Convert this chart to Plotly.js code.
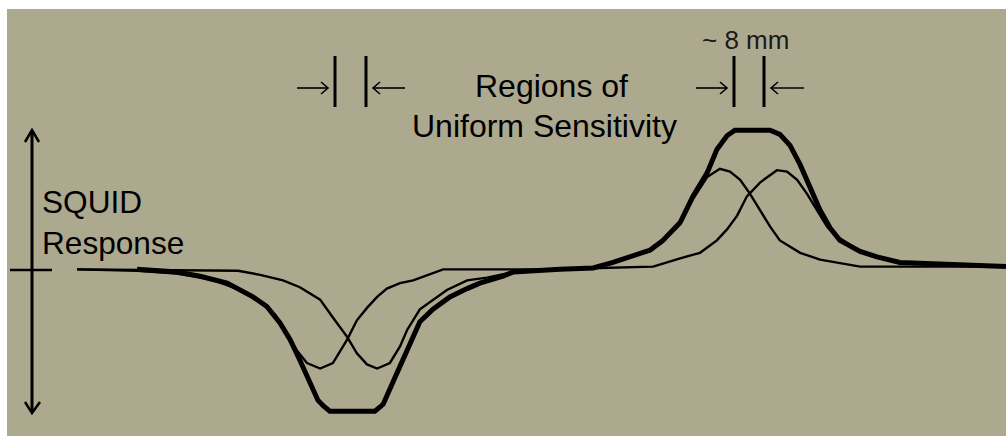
<!DOCTYPE html>
<html>
<head>
<meta charset="utf-8">
<script src="https://cdn.plot.ly/plotly-3.0.1.min.js"></script>
<style>
  html, body { margin: 0; padding: 0; background: #ffffff; }
  #chart { width: 1006px; height: 436px; }
</style>
</head>
<body>
<div id="chart"></div>
<script>
// Scan position along the sample (mm) and SQUID output (arbitrary units, 0 = baseline)

// Pick-up loop 1 (dip on the left, peak on the right)
const posLoop1 = [18.7, 34.7, 45.3, 54.1, 62.1, 67.5, 71.5, 74.1, 77.3, 80.0, 83.5, 86.9, 90.7, 93.3, 96.0, 98.7,
  101.3, 104.8, 108.3, 113.6, 116.3, 132.3, 147.5, 156.3, 161.6, 166.9, 171.5, 174.9, 179.5, 182.9, 186.7,
  190.1, 192.8, 195.5, 198.1, 200.8, 203.5, 206.1, 211.5, 216.8, 221.3, 227.5, 254.1, 266.4];
const respLoop1 = [-0.01, -0.02, -0.04, -0.08, -0.16, -0.25, -0.34, -0.45, -0.60, -0.69, -0.73, -0.69, -0.52, -0.38, -0.29, -0.21,
  -0.15, -0.11, -0.09, -0.04, -0.01, -0.01, -0.01, 0.00, 0.04, 0.09, 0.12, 0.19, 0.32, 0.50, 0.66,
  0.72, 0.70, 0.64, 0.54, 0.42, 0.30, 0.20, 0.11, 0.06, 0.04, 0.01, 0.01, 0.01];

// Pick-up loop 2 (same profile, shifted along the scan)
const posLoop2 = [18.7, 61.6, 67.5, 73.6, 78.1, 83.5, 86.9, 90.7, 93.3, 96.0, 98.7, 102.1, 104.8, 106.7, 110.1, 113.6,
  117.3, 122.7, 128.0, 133.3, 147.5, 158.1, 172.3, 179.5, 184.8, 189.3, 192.0, 194.7, 197.3, 200.8, 205.3,
  208.0, 210.7, 213.3, 216.0, 218.7, 221.3, 227.5, 232.0, 238.1, 246.1, 254.1, 266.4];
const respLoop2 = [-0.01, -0.02, -0.05, -0.09, -0.14, -0.23, -0.36, -0.50, -0.62, -0.70, -0.73, -0.69, -0.57, -0.45, -0.30, -0.23,
  -0.16, -0.09, -0.07, -0.04, -0.01, 0.00, 0.01, 0.07, 0.11, 0.20, 0.28, 0.38, 0.52, 0.62, 0.71,
  0.70, 0.64, 0.54, 0.42, 0.30, 0.23, 0.12, 0.08, 0.04, 0.03, 0.02, 0.01];

// Combined response (flat-topped regions of uniform sensitivity)
const posSum = [34.7, 45.3, 51.5, 58.7, 65.6, 69.3, 72.8, 75.5, 78.1, 80.8, 82.9, 84.3, 86.1, 98.1, 100.3, 102.9,
  105.6, 108.3, 110.1, 113.6, 118.1, 122.7, 126.1, 132.3, 134.9, 147.5, 156.3, 161.6, 166.9, 171.5, 174.9,
  179.5, 182.9, 186.7, 189.3, 192.0, 194.1, 203.5, 206.1, 208.8, 211.5, 214.1, 216.8, 219.5, 222.1, 227.5,
  232.0, 238.1, 246.1, 254.1, 266.4];
const respSum = [-0.01, -0.03, -0.06, -0.11, -0.21, -0.28, -0.40, -0.52, -0.67, -0.83, -0.96, -1.00, -1.04, -1.04, -0.99, -0.83,
  -0.67, -0.50, -0.39, -0.30, -0.21, -0.15, -0.11, -0.06, -0.03, -0.01, 0.00, 0.04, 0.09, 0.13, 0.20,
  0.33, 0.52, 0.69, 0.86, 0.96, 1.00, 1.00, 0.97, 0.89, 0.75, 0.58, 0.42, 0.29, 0.20, 0.12,
  0.08, 0.04, 0.03, 0.02, 0.01];

// Text labels
const labelAxis = ['SQUID', 'Response'];
const labelRegions = ['Regions of', 'Uniform Sensitivity'];
const labelGap = '~ 8 mm';

// Page geometry: the plot area fills the khaki panel
const W = 1006, H = 436, ML = 7, MT = 9, MR = 0, MB = 0;
const fx = v => (v - ML) / (W - ML - MR);   // page px -> paper x
const fy = v => (H - MB - v) / (H - MT - MB); // page px -> paper y

const ink = '#000000';
const font = 'Liberation Sans, Arial, sans-serif';

const traces = [
  { x: posLoop1, y: respLoop1, mode: 'lines', line: { color: ink, width: 2.4 }, hoverinfo: 'skip' },
  { x: posLoop2, y: respLoop2, mode: 'lines', line: { color: ink, width: 2.4 }, hoverinfo: 'skip' },
  { x: posSum, y: respSum, mode: 'lines', line: { color: ink, width: 5 }, hoverinfo: 'skip' }
];

// Decorations: bars marking the flat regions, small inward arrows, response axis
const shapes = [];
function seg(x0, y0, x1, y1, w) {
  shapes.push({ type: 'line', xref: 'paper', yref: 'paper', x0: fx(x0), y0: fy(y0), x1: fx(x1), y1: fy(y1),
    line: { color: ink, width: w } });
}
function pathPx(pts, w) {
  const d = pts.map((p, i) => (p[0] === 'M' ? 'M' : 'L') + ' ' + fx(p[1]) + ',' + fy(p[2])).join(' ');
  shapes.push({ type: 'path', xref: 'paper', yref: 'paper', path: d, line: { color: ink, width: w } });
}
function hArrow(xTail, xTip, y) {
  const dir = Math.sign(xTip - xTail);
  seg(xTail, y, xTip, y, 1.6);
  pathPx([['M', xTip - dir * 7, y - 6], ['L', xTip, y], ['L', xTip - dir * 7, y + 6]], 1.6);
}
// left pair
seg(335, 56, 335, 107, 3);
seg(366, 56, 366, 107, 3);
hArrow(297, 328, 88);
hArrow(405, 373, 88);
// right pair
seg(734, 56, 734, 107, 3);
seg(764, 56, 764, 107, 3);
hArrow(696, 727, 88);
hArrow(804, 771, 88);
// response axis with arrowheads at both ends, and the zero tick
seg(32, 132, 32, 411, 3);
pathPx([['M', 25, 142], ['L', 32, 130], ['L', 39, 142]], 2.5);
pathPx([['M', 25, 402], ['L', 32, 413], ['L', 40, 402]], 2.5);
seg(10, 270, 52, 270, 2.5);

const annotations = [
  { text: labelAxis[0], x: fx(41), y: fy(202), xanchor: 'left', yanchor: 'middle', size: 31.6 },
  { text: labelAxis[1], x: fx(41), y: fy(243), xanchor: 'left', yanchor: 'middle', size: 31.6 },
  { text: labelRegions[0], x: fx(551), y: fy(86), xanchor: 'center', yanchor: 'middle', size: 32 },
  { text: labelRegions[1], x: fx(544), y: fy(126), xanchor: 'center', yanchor: 'middle', size: 32 },
  { text: labelGap, x: fx(745), y: fy(40), xanchor: 'center', yanchor: 'middle', size: 26, color: '#1a1a1a' }
].map(a => ({
  text: a.text, x: a.x, y: a.y, xref: 'paper', yref: 'paper', xanchor: a.xanchor, yanchor: a.yanchor,
  showarrow: false, borderpad: 0, font: { family: font, size: a.size, color: a.color || ink }
}));

const layout = {
  width: W, height: H,
  margin: { l: ML, r: MR, t: MT, b: MB, pad: 0 },
  paper_bgcolor: '#ffffff',
  plot_bgcolor: '#ada98f',
  showlegend: false,
  xaxis: { range: [0, (W - ML - MR) / 3.75], visible: false, fixedrange: true },
  yaxis: { range: [-1.22, 1.88], visible: false, fixedrange: true },
  shapes: shapes,
  annotations: annotations
};

Plotly.newPlot('chart', traces, layout, { staticPlot: true, displayModeBar: false });
</script>
</body>
</html>
